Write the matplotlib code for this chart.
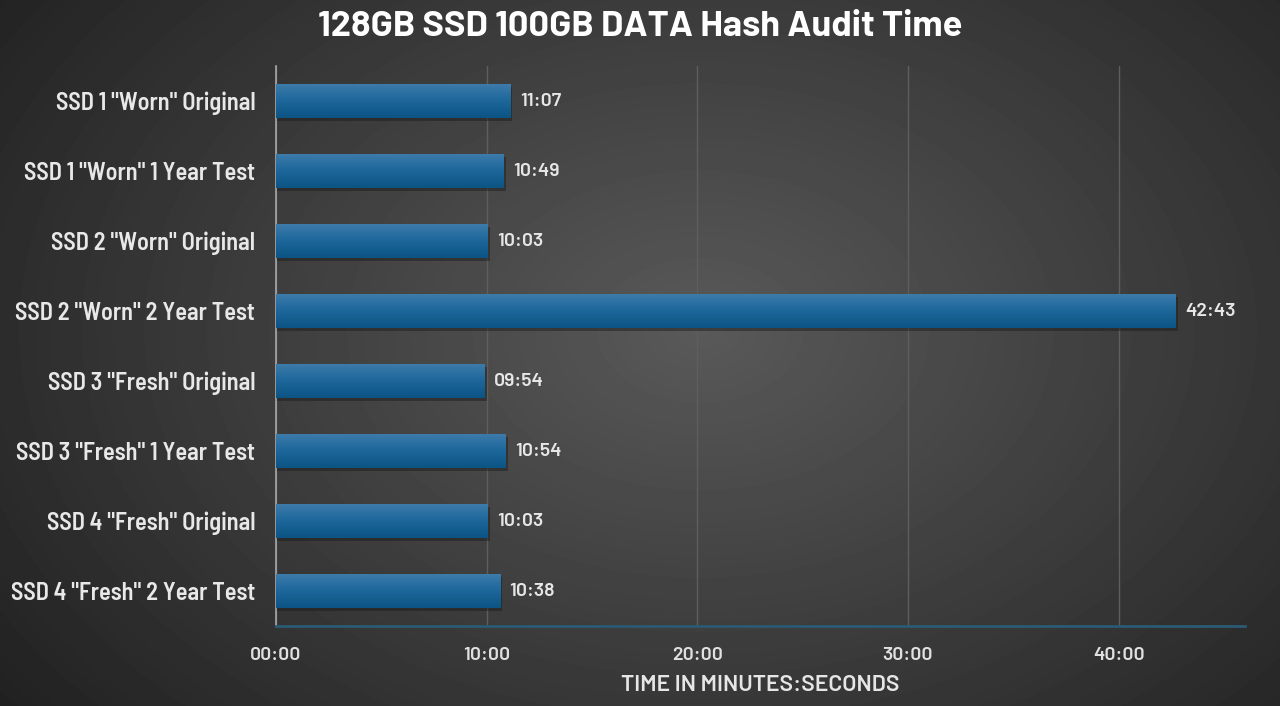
import matplotlib.pyplot as plt
import numpy as np
from matplotlib.colors import LinearSegmentedColormap

labels = ['SSD 1 "Worn" Original', 'SSD 1 "Worn" 1 Year Test', 'SSD 2 "Worn" Original',
          'SSD 2 "Worn" 2 Year Test', 'SSD 3 "Fresh" Original', 'SSD 3 "Fresh" 1 Year Test',
          'SSD 4 "Fresh" Original', 'SSD 4 "Fresh" 2 Year Test']
times = ['11:07', '10:49', '10:03', '42:43', '09:54', '10:54', '10:03', '10:38']
tick_minutes = [0, 10, 20, 30, 40]

minutes = [int(t.split(':')[0]) + int(t.split(':')[1]) / 60 for t in times]

cond = ['Barlow Semi Condensed', 'DejaVu Sans']
wide = ['Barlow', 'DejaVu Sans']

fig = plt.figure(figsize=(12.8, 7.06), dpi=100)

# radial gradient background
bg = fig.add_axes([0, 0, 1, 1])
yy, xx = np.mgrid[0:706, 0:1280]
r = np.sqrt(((xx - 700) / 800) ** 2 + ((yy - 330) / 560) ** 2)
shade = np.clip(0.35 - 0.2 * r, 0.11, 0.4)
bg.imshow(shade, cmap='gray', vmin=0, vmax=1, aspect='auto')
bg.axis('off')

ax = fig.add_axes([0.2156, 0.1133, 0.7571, 0.7932])
ax.set_facecolor('none')

y = np.arange(len(labels))
bars = ax.barh(y, minutes, height=0.49, color='#145d8c', zorder=3)

# shadow + vertical gradient inside each bar
grad = np.linspace(0, 1, 64).reshape(-1, 1)
cm = LinearSegmentedColormap.from_list('bar', ['#3f7cab', '#1d679b', '#0b5484'])
for b in bars:
    x0, y0, w, h = b.get_x(), b.get_y(), b.get_width(), b.get_height()
    ax.barh(y0 + h / 2 + 0.04, w + 0.1, height=h, left=x0, color='#1a1a1a', alpha=0.45, zorder=2)
    im = ax.imshow(grad, cmap=cm, extent=(x0, x0 + w, y0 + h, y0), aspect='auto', zorder=4)
    im.set_clip_path(b)

for yi, m, t in zip(y, minutes, times):
    ax.text(m + 0.45, yi, t, va='center', ha='left', color='#e6e6e6', fontsize=14,
            fontweight='semibold', family=wide, zorder=5)

ax.set_xlim(0, 46)
ax.set_ylim(len(labels) - 0.5, -0.5)
ax.set_yticks(y)
ax.set_yticklabels(labels, fontsize=17.5, fontweight='semibold', family=cond, color='#e8e8e8')
ax.set_xticks(tick_minutes)
ax.set_xticklabels([f'{m:02d}:00' for m in tick_minutes], fontsize=14, fontweight='semibold',
                   family=wide, color='#e0e0e0')
ax.tick_params(length=0, pad=15, axis='y')
ax.tick_params(length=0, pad=15, axis='x')
ax.grid(axis='x', color='#5e5e5e', lw=1, zorder=1)
ax.set_axisbelow(True)
for s in ['top', 'right']:
    ax.spines[s].set_visible(False)
ax.spines['left'].set_color('#a8a8a8')
ax.spines['left'].set_linewidth(1.2)
ax.spines['bottom'].set_color('#2b5a73')
ax.spines['bottom'].set_linewidth(2)

ax.set_xlabel('TIME IN MINUTES:SECONDS', fontsize=16.5, fontweight='semibold', family=wide,
              color='#e6e6e6', labelpad=8)
fig.text(0.5, 0.962, '128GB SSD 100GB DATA Hash Audit Time', ha='center', va='center',
         fontsize=26, fontweight='bold', family=wide, color='white')

fig.savefig('out.png', dpi=100)
